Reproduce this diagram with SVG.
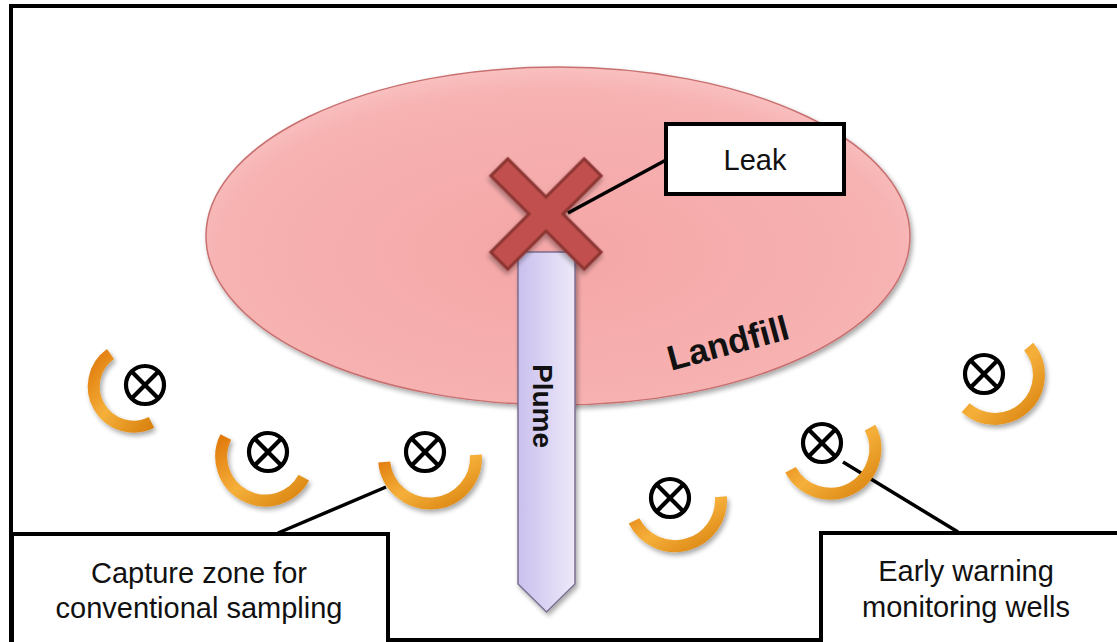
<svg xmlns="http://www.w3.org/2000/svg" width="1117" height="642" viewBox="0 0 1117 642">
<defs>
<radialGradient id="gFill" cx="0.5" cy="0.55" r="0.6">
<stop offset="0" stop-color="#f5a6a6"/><stop offset="0.8" stop-color="#f7b2b2"/><stop offset="1" stop-color="#fbcaca"/>
</radialGradient>
<linearGradient id="gPlume" x1="0" y1="0" x2="1" y2="0">
<stop offset="0" stop-color="#c9c0ee"/><stop offset="1" stop-color="#ede9f8"/>
</linearGradient>
<linearGradient id="gArc" x1="0" y1="0" x2="1" y2="1">
<stop offset="0" stop-color="#e07a0c"/><stop offset="0.5" stop-color="#f5b03a"/><stop offset="1" stop-color="#d9820f"/>
</linearGradient>
<filter id="sh" x="-30%" y="-30%" width="160%" height="160%">
<feGaussianBlur in="SourceAlpha" stdDeviation="2.5"/>
<feOffset dx="2" dy="3" result="b"/>
<feComponentTransfer><feFuncA type="linear" slope="0.35"/></feComponentTransfer>
<feMerge><feMergeNode/><feMergeNode in="SourceGraphic"/></feMerge>
</filter>
</defs>
<style>
.frame{fill:#fff;stroke:#000;stroke-width:4}
.box{fill:#fff;stroke:#000;stroke-width:4}
.lbl{font-family:"Liberation Sans",Arial,sans-serif;font-size:29px;fill:#111;text-anchor:middle}
.bold{font-family:"Liberation Sans",Arial,sans-serif;font-weight:bold;fill:#111;text-anchor:middle}
.arc{fill:none;stroke:url(#gArc);stroke-width:12;filter:url(#sh)}
.well{fill:none;stroke:#000;stroke-width:4.2}
.lead{stroke:#000;stroke-width:3.5;fill:none}
</style>
<rect class="frame" x="11" y="6" width="1120" height="634"/>

<g id="landfill">
<ellipse cx="558" cy="236" rx="352" ry="169" fill="url(#gFill)" stroke="#c87070" stroke-width="1.5" filter="url(#sh)"/>
<text class="bold" font-size="35" transform="translate(728,343) rotate(-15)" dy="12">Landfill</text>
</g>

<g id="plume">
<path d="M518,252 L575,252 L575,584 L546.5,612 L518,584 Z" fill="url(#gPlume)" stroke="#7c6e90" stroke-width="1.5" filter="url(#sh)"/>
<text class="bold" font-size="28" transform="translate(543,406) rotate(90)" dy="10">Plume</text>
</g>

<g id="leak-x">
<g transform="translate(546,214) rotate(45)">
<path d="M-12,-66 L12,-66 L12,-12 L66,-12 L66,12 L12,12 L12,66 L-12,66 L-12,12 L-66,12 L-66,-12 L-12,-12 Z" fill="#c0504d" stroke="#8b3431" stroke-width="3" filter="url(#sh)"/>
</g>
</g>

<g id="connectors">
<line class="lead" x1="666" y1="160" x2="568" y2="213"/>
<line class="lead" x1="278" y1="533" x2="386" y2="487"/>
<line class="lead" x1="958" y1="532" x2="843" y2="462"/>
</g>

<g id="leak">
<rect class="box" x="666" y="124" width="178" height="70"/>
<text class="lbl" x="755" y="170">Leak</text>
</g>

<g id="well1">
<path class="arc" d="M110.5,354 A40,40 0 0 0 151.5,422.4"/>
<circle class="well" cx="145" cy="385" r="19"/>
<path class="well" d="M131.6,371.6 L158.4,398.4 M158.4,371.6 L131.6,398.4"/>
</g>
<g id="well2">
<path class="arc" d="M225.8,437 A44,44 0 0 0 303.8,477.7"/>
<circle class="well" cx="268" cy="452" r="19"/>
<path class="well" d="M254.6,438.6 L281.4,465.4 M281.4,438.6 L254.6,465.4"/>
</g>
<g id="well3">
<path class="arc" d="M384.2,462 A46,46 0 0 0 475.9,454.8"/>
<circle class="well" cx="425" cy="452" r="19"/>
<path class="well" d="M411.6,438.6 L438.4,465.4 M438.4,438.6 L411.6,465.4"/>
</g>
<g id="well4">
<path class="arc" d="M634,520.9 A46,46 0 0 0 720.9,496.8"/>
<circle class="well" cx="670" cy="498" r="19"/>
<path class="well" d="M656.6,484.6 L683.4,511.4 M683.4,484.6 L656.6,511.4"/>
</g>
<g id="well5">
<path class="arc" d="M790.6,469.8 A45,45 0 0 0 870.1,427.6"/>
<circle class="well" cx="822" cy="443" r="19"/>
<path class="well" d="M808.6,429.6 L835.4,456.4 M835.4,429.6 L808.6,456.4"/>
</g>
<g id="well6">
<path class="arc" d="M965.6,407.7 A44,44 0 0 0 1028.7,346.7"/>
<circle class="well" cx="984" cy="374" r="19"/>
<path class="well" d="M970.6,360.6 L997.4,387.4 M997.4,360.6 L970.6,387.4"/>
</g>

<g id="capture">
<rect class="box" x="12" y="534" width="376" height="120"/>
<text class="lbl" x="199" y="583">Capture zone for</text>
<text class="lbl" x="199" y="618">conventional sampling</text>
</g>

<g id="early">
<rect class="box" x="821" y="533" width="320" height="120"/>
<text class="lbl" x="966" y="581">Early warning</text>
<text class="lbl" x="966" y="617">monitoring wells</text>
</g>
</svg>
